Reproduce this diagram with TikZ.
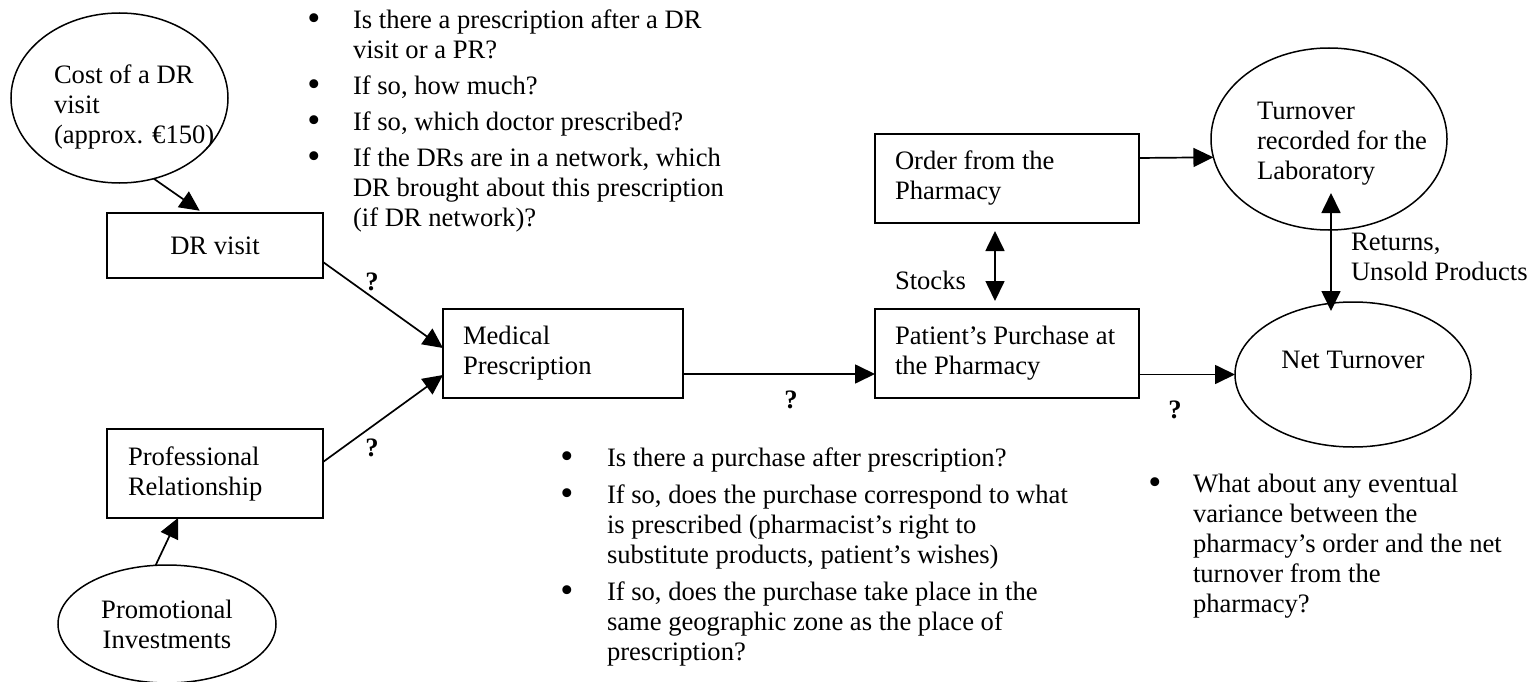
\documentclass[tikz,border=0pt]{standalone}
\usepackage{fontspec}
\setmainfont{Liberation Serif}
\usetikzlibrary{arrows.meta,shapes.geometric}
\newcommand{\bdot}{\raisebox{-0.1em}{\scalebox{1.4}{\textbullet}}}
\newcommand{\bltA}{\makebox[45.7pt][l]{\bdot}}
\newcommand{\indA}{\hspace*{45.7pt}}
\newcommand{\bltB}{\makebox[46.7pt][l]{\bdot}}
\newcommand{\indB}{\hspace*{46.7pt}}
\newcommand{\bltC}{\makebox[44.7pt][l]{\bdot}}
\newcommand{\indC}{\hspace*{44.7pt}}
\begin{document}
\begin{tikzpicture}[x=1pt,y=-1pt,
  every node/.style={font=\fontsize{26.6pt}{30pt}\selectfont, inner sep=0pt, outer sep=0pt},
  box/.style={draw, line width=1.8pt, rectangle, minimum height=89pt, align=flush left, inner xsep=20pt},
  ell/.style={draw, ellipse, line width=1.5pt},
  txt/.style={align=left, anchor=base west},
  qm/.style={font=\fontsize{26.6pt}{30pt}\selectfont\bfseries},
  arr/.style={line width=1.7pt, -{Triangle[length=20pt,width=19pt]}},
  dbl/.style={line width=1.7pt, {Triangle[length=20pt,width=19pt]}-{Triangle[length=20pt,width=19pt]}}
]
\fill[white] (0,0) rectangle (1531,682);
\useasboundingbox (0,0) rectangle (1531,682);

% ellipses (anchor base = last line baseline)
\node[ell, minimum width=217pt, minimum height=170pt] (cost) at (119.5,98) {};
\node[txt] (costtxt) at (54,143) {Cost of a DR\\visit\\(approx. €150)};
\node[ell, minimum width=218pt, minimum height=118pt, align=center] (promo) at (167,624) {Promotional\\Investments};
\node[ell, minimum width=236pt, minimum height=182pt] (turn) at (1329,139) {};
\node[txt] (turntxt) at (1257,179) {Turnover\\recorded for the\\Laboratory};
\node[ell, minimum width=236pt, minimum height=145pt, align=center] (net) at (1353,374.5) {Net Turnover\\\mbox{}};

% boxes
\node[draw, line width=1.8pt, rectangle, minimum width=216pt, minimum height=65pt, align=center] (drv) at (215,245.5) {DR visit};
\node[box, text width=174pt, inner xsep=21pt] (prof) at (215,473.5) {Professional\\Relationship};
\node[box, text width=200pt] (med) at (563,353.5) {Medical\\Prescription};
\node[box, text width=224pt] (pat) at (1007,353.5) {\mbox{Patient’s Purchase at}\\the Pharmacy};
\node[box, text width=224pt] (order) at (1007,178.5) {Order from the\\Pharmacy};

% connectors
\draw[arr, shorten >=4pt] (cost.-67) -- ([xshift=-12pt]drv.north);
\draw[arr] ([yshift=-16.5pt]drv.east) -- ([yshift=5.5pt]med.west);
\draw[arr] ([yshift=11.5pt]prof.east) -- ([yshift=-21.5pt]med.west);
\draw[arr] (promo.101) -- ([xshift=-37pt]prof.south);
\draw[arr] ([yshift=-20.5pt]med.east) -- ([yshift=-20.5pt]pat.west);
\draw[arr] (pat.east |- net.west) -- (net.west);
\draw[arr] ([yshift=20.5pt]order.east) -- (turn.189);
\draw[dbl] ([xshift=-12pt,yshift=-8pt]order.south) -- ([xshift=-12pt,yshift=8pt]pat.north);
\draw[dbl] ([xshift=2pt,yshift=37pt]turn.south) -- ([xshift=-22pt,yshift=-9pt]net.north);

% labels
\node[qm] (q1) at (372,282) {?};
\node[qm] (q2) at (372,448) {?};
\node[qm] (q3) at (791,400) {?};
\node[qm] (q4) at (1175,410) {?};
\node[txt] (stocks) at (895,289) {Stocks};
\node[txt] (returns) at (1351,280) {Returns,\\Unsold Products};

% bullet lists
\node[txt] (listA) at (307.3,226) {\bltA Is there a prescription after a DR\\
\indA visit or a PR?\\[6pt]
\bltA If so, how much?\\[6pt]
\bltA If so, which doctor prescribed?\\[6pt]
\bltA If the DRs are in a network, which\\
\indA DR brought about this prescription\\
\indA (if DR network)?};
\node[txt] (listB) at (560.3,660) {\bltB Is there a purchase after prescription?\\[7pt]
\bltB If so, does the purchase correspond to what\\
\indB is prescribed (pharmacist’s right to\\
\indB substitute products, patient’s wishes)\\[7pt]
\bltB If so, does the purchase take place in the\\
\indB same geographic zone as the place of\\
\indB prescription?};
\node[txt] (listC) at (1148.3,612) {\bltC What about any eventual\\
\indC variance between the\\
\indC pharmacy’s order and the net\\
\indC turnover from the\\
\indC pharmacy?};
\end{tikzpicture}
\end{document}
